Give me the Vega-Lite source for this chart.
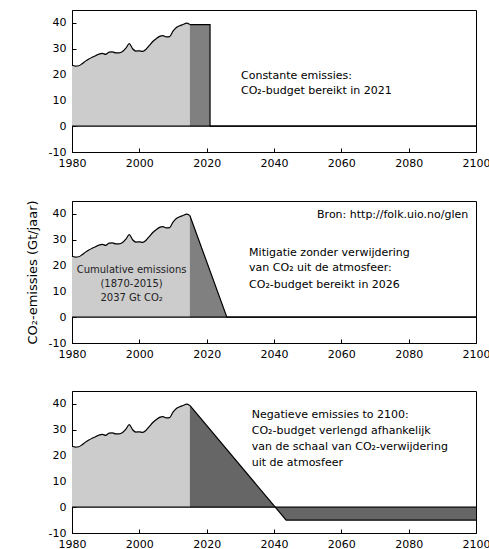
{
  "$schema": "https://vega.github.io/schema/vega-lite/v6.json",
  "padding": {"top": 9, "left": 25, "right": 5, "bottom": 5},
  "background": "white",
  "spacing": 30,
  "datasets": {
    "hist": [
      {"year": 1980, "value": 23.6}, {"year": 1981, "value": 23.3}, {"year": 1982, "value": 23.4},
      {"year": 1983, "value": 24.2}, {"year": 1984, "value": 25.2}, {"year": 1985, "value": 26.0},
      {"year": 1986, "value": 26.7}, {"year": 1987, "value": 27.3}, {"year": 1988, "value": 27.9},
      {"year": 1989, "value": 28.2}, {"year": 1990, "value": 27.8}, {"year": 1991, "value": 28.7},
      {"year": 1992, "value": 28.8}, {"year": 1993, "value": 28.4}, {"year": 1994, "value": 28.4},
      {"year": 1995, "value": 28.9}, {"year": 1996, "value": 30.2}, {"year": 1997, "value": 32.0},
      {"year": 1998, "value": 30.0}, {"year": 1999, "value": 29.1}, {"year": 2000, "value": 29.2},
      {"year": 2001, "value": 29.0}, {"year": 2002, "value": 29.8}, {"year": 2003, "value": 31.3},
      {"year": 2004, "value": 32.8}, {"year": 2005, "value": 33.9}, {"year": 2006, "value": 34.8},
      {"year": 2007, "value": 35.1}, {"year": 2008, "value": 34.6}, {"year": 2009, "value": 34.7},
      {"year": 2010, "value": 36.8}, {"year": 2011, "value": 38.2}, {"year": 2012, "value": 38.9},
      {"year": 2013, "value": 39.4}, {"year": 2014, "value": 39.9}, {"year": 2015, "value": 39.4}
    ],
    "fill1": [{"year": 2015, "value": 39.3}, {"year": 2021, "value": 39.3}],
    "edge1": [{"i": 1, "year": 2015, "value": 39.3}, {"i": 2, "year": 2021, "value": 39.3}, {"i": 3, "year": 2021, "value": 0}, {"i": 4, "year": 2100, "value": 0}],
    "fill2": [{"year": 2015, "value": 39.4}, {"year": 2026, "value": 0}],
    "edge2": [{"i": 1, "year": 2015, "value": 39.4}, {"i": 2, "year": 2026, "value": 0}, {"i": 3, "year": 2100, "value": 0}],
    "fill3": [{"year": 2015, "value": 39.4}, {"year": 2043.6, "value": -5}, {"year": 2100, "value": -5}],
    "edge3": [{"i": 1, "year": 2015, "value": 39.4}, {"i": 2, "year": 2043.6, "value": -5}, {"i": 3, "year": 2100, "value": -5}],
    "text1": [
      {"year": 2030.2, "value": 19.4, "label": "Constante emissies:"},
      {"year": 2030.2, "value": 13.6, "label": "CO₂-budget bereikt in 2021"}
    ],
    "text2": [
      {"year": 2032.6, "value": 24.8, "label": "Mitigatie zonder verwijdering"},
      {"year": 2032.6, "value": 19.0, "label": "van CO₂ uit de atmosfeer:"},
      {"year": 2032.6, "value": 12.6, "label": "CO₂-budget bereikt in 2026"}
    ],
    "bron": [{"year": 2097.7, "value": 39.5, "label": "Bron: http://folk.uio.no/glen"}],
    "cum": [
      {"year": 1997.7, "value": 18.2, "label": "Cumulative emissions"},
      {"year": 1997.7, "value": 12.8, "label": "(1870-2015)"},
      {"year": 1997.7, "value": 7.4, "label": "2037 Gt CO₂"}
    ],
    "text3": [
      {"year": 2033.4, "value": 35.7, "label": "Negatieve emissies to 2100:"},
      {"year": 2033.4, "value": 29.5, "label": "CO₂-budget verlengd afhankelijk"},
      {"year": 2033.4, "value": 23.3, "label": "van de schaal van CO₂-verwijdering"},
      {"year": 2033.4, "value": 17.1, "label": "uit de atmosfeer"}
    ]
  },
  "vconcat": [
    {
      "width": 404, "height": 142,
      "encoding": {
        "x": {"field": "year", "type": "quantitative", "scale": {"domain": [1980, 2100], "nice": false}, "axis": {"values": [1980, 2000, 2020, 2040, 2060, 2080, 2100], "title": null, "format": "d"}},
        "y": {"field": "value", "type": "quantitative", "scale": {"domain": [-10, 45], "nice": false}, "axis": {"values": [-10, 0, 10, 20, 30, 40], "title": null}}
      },
      "layer": [
        {"data": {"name": "hist"}, "mark": {"type": "area", "color": "#cccccc", "interpolate": "monotone"}},
        {"data": {"name": "fill1"}, "mark": {"type": "area", "color": "#808080"}},
        {"data": {"name": "hist"}, "mark": {"type": "line", "color": "black", "strokeWidth": 1.2, "interpolate": "monotone"}},
        {"data": {"name": "edge1"}, "mark": {"type": "line", "color": "black", "strokeWidth": 1.2}, "encoding": {"order": {"field": "i"}}},
        {"data": {"values": [{"value": 0}]}, "mark": {"type": "rule", "color": "black", "strokeWidth": 1.2}, "encoding": {"x": null, "y": {"field": "value", "type": "quantitative"}}},
        {"data": {"name": "text1"}, "mark": {"type": "text", "align": "left", "baseline": "middle", "font": "DejaVu Sans", "fontSize": 11, "color": "black"}, "encoding": {"text": {"field": "label"}}}
      ]
    },
    {
      "width": 404, "height": 142,
      "encoding": {
        "x": {"field": "year", "type": "quantitative", "scale": {"domain": [1980, 2100], "nice": false}, "axis": {"values": [1980, 2000, 2020, 2040, 2060, 2080, 2100], "title": null, "format": "d"}},
        "y": {"field": "value", "type": "quantitative", "scale": {"domain": [-10, 45], "nice": false}, "axis": {"values": [-10, 0, 10, 20, 30, 40], "title": "CO₂-emissies (Gt/jaar)"}}
      },
      "layer": [
        {"data": {"name": "hist"}, "mark": {"type": "area", "color": "#cccccc", "interpolate": "monotone"}},
        {"data": {"name": "fill2"}, "mark": {"type": "area", "color": "#808080"}},
        {"data": {"name": "hist"}, "mark": {"type": "line", "color": "black", "strokeWidth": 1.2, "interpolate": "monotone"}},
        {"data": {"name": "edge2"}, "mark": {"type": "line", "color": "black", "strokeWidth": 1.2}, "encoding": {"order": {"field": "i"}}},
        {"data": {"values": [{"value": 0}]}, "mark": {"type": "rule", "color": "black", "strokeWidth": 1.2}, "encoding": {"x": null, "y": {"field": "value", "type": "quantitative"}}},
        {"data": {"name": "text2"}, "mark": {"type": "text", "align": "left", "baseline": "middle", "font": "DejaVu Sans", "fontSize": 11, "color": "black"}, "encoding": {"text": {"field": "label"}}},
        {"data": {"name": "bron"}, "mark": {"type": "text", "align": "right", "baseline": "middle", "font": "DejaVu Sans", "fontSize": 11, "color": "black"}, "encoding": {"text": {"field": "label"}}},
        {"data": {"name": "cum"}, "mark": {"type": "text", "align": "center", "baseline": "middle", "font": "DejaVu Sans", "fontSize": 10, "color": "#222222"}, "encoding": {"text": {"field": "label"}}}
      ]
    },
    {
      "width": 404, "height": 142,
      "encoding": {
        "x": {"field": "year", "type": "quantitative", "scale": {"domain": [1980, 2100], "nice": false}, "axis": {"values": [1980, 2000, 2020, 2040, 2060, 2080, 2100], "title": null, "format": "d"}},
        "y": {"field": "value", "type": "quantitative", "scale": {"domain": [-10, 45], "nice": false}, "axis": {"values": [-10, 0, 10, 20, 30, 40], "title": null}}
      },
      "layer": [
        {"data": {"name": "hist"}, "mark": {"type": "area", "color": "#cccccc", "interpolate": "monotone"}},
        {"data": {"name": "fill3"}, "mark": {"type": "area", "color": "#666666"}},
        {"data": {"name": "hist"}, "mark": {"type": "line", "color": "black", "strokeWidth": 1.2, "interpolate": "monotone"}},
        {"data": {"name": "edge3"}, "mark": {"type": "line", "color": "black", "strokeWidth": 1.2}, "encoding": {"order": {"field": "i"}}},
        {"data": {"values": [{"value": 0}]}, "mark": {"type": "rule", "color": "black", "strokeWidth": 1.2}, "encoding": {"x": null, "y": {"field": "value", "type": "quantitative"}}},
        {"data": {"name": "text3"}, "mark": {"type": "text", "align": "left", "baseline": "middle", "font": "DejaVu Sans", "fontSize": 11, "color": "black"}, "encoding": {"text": {"field": "label"}}}
      ]
    }
  ],
  "config": {
    "view": {"stroke": "black", "strokeWidth": 1},
    "axis": {
      "grid": false,
      "domainColor": "black",
      "tickColor": "black",
      "tickSize": -4,
      "labelColor": "black",
      "labelFont": "DejaVu Sans",
      "labelFontSize": 11,
      "labelFlush": false,
      "labelOverlap": false,
      "labelExpr": "replace(datum.label, '−', '-')",
      "titleFont": "DejaVu Sans",
      "titleFontSize": 13,
      "titleFontWeight": "normal",
      "titleColor": "black",
      "titlePadding": 9
    },
    "axisX": {"labelPadding": 9},
    "axisY": {"labelPadding": 10}
  }
}
